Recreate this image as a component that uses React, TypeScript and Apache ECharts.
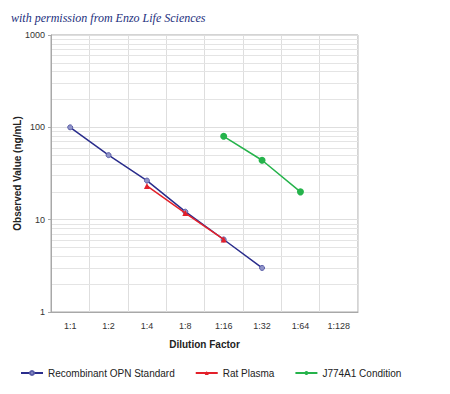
import React, { useEffect, useRef } from "react";
import * as echarts from "echarts";

const categories = ["1:1", "1:2", "1:4", "1:8", "1:16", "1:32", "1:64", "1:128"];
const recombinant = [100, 50, 26.5, 12.2, 6.1, 3.0, null, null];
const ratPlasma = [null, null, 23.2, 11.8, 6.1, null, null, null];
const j774 = [null, null, null, null, 80, 44, 20, null];
const yTicks = [1, 10, 100, 1000];
const minorGrid = [2, 3, 4, 5, 6, 7, 8, 9, 20, 30, 40, 50, 60, 70, 80, 90, 200, 300, 400, 500, 600, 700, 800, 900];

const FONT = "Arial, 'Liberation Sans', sans-serif";

export default function App() {
  const ref = useRef<HTMLDivElement>(null);
  useEffect(() => {
    if (!ref.current) return;
    const chart = echarts.init(ref.current, undefined, { renderer: "svg" });
    chart.setOption({
      animation: false,
      backgroundColor: "#ffffff",
      title: {
        text: "with permission from Enzo Life Sciences",
        left: 6,
        top: 7,
        textStyle: {
          fontFamily: "'Liberation Serif', serif",
          fontStyle: "italic",
          fontWeight: "normal",
          fontSize: 12,
          color: "#1d2f7d",
        },
      },
      grid: {
        left: 51,
        top: 35,
        right: 92,
        bottom: 82,
        show: true,
        containLabel: false,
        outerBoundsMode: "none",
        borderColor: "#a8a8a8",
        borderWidth: 1,
      },
      legend: {
        left: 15,
        top: 363,
        itemWidth: 22,
        itemHeight: 5,
        itemGap: 20,
        textStyle: {
          fontFamily: FONT,
          fontSize: 10,
          color: "#222",
          overflow: "truncate",
          ellipsis: "",
        },
        data: [
          { name: "Recombinant OPN Standard", textStyle: { width: 160 } },
          { name: "Rat Plasma", textStyle: { width: 80 } },
          { name: "J774A1 Conditioned Medium", textStyle: { width: 84 } },
        ],
      },
      xAxis: {
        type: "category",
        data: categories,
        boundaryGap: true,
        name: "Dilution Factor",
        nameLocation: "middle",
        nameGap: 27,
        nameMoveOverlap: false,
        nameTextStyle: { fontFamily: FONT, fontSize: 10, fontWeight: "bold", color: "#222" },
        axisLine: { lineStyle: { color: "#a8a8a8" } },
        axisTick: { show: false },
        axisLabel: { fontFamily: FONT, fontSize: 9, color: "#333", margin: 9 },
        splitLine: { show: true, lineStyle: { color: "#dedede", width: 1 } },
      },
      yAxis: {
        type: "log",
        logBase: 10,
        min: yTicks[0],
        max: yTicks[yTicks.length - 1],
        name: "Observed Value (ng/mL)",
        nameLocation: "middle",
        nameGap: 29,
        nameMoveOverlap: false,
        nameTextStyle: { fontFamily: FONT, fontSize: 10, fontWeight: "bold", color: "#222" },
        axisLine: { show: true, lineStyle: { color: "#a8a8a8" } },
        axisTick: { show: true, length: 3, lineStyle: { color: "#a8a8a8" } },
        axisLabel: {
          fontFamily: FONT,
          fontSize: 9,
          color: "#333",
          margin: 6,
          formatter: (v: number) => String(Math.round(v)),
        },
        splitLine: { show: true, lineStyle: { color: "#dedede", width: 1 } },
      },
      series: [
        {
          name: "Recombinant OPN Standard",
          type: "line",
          data: recombinant,
          connectNulls: false,
          color: "#2a2d8c",
          lineStyle: { color: "#2a2d8c", width: 1.5 },
          symbol: "circle",
          symbolSize: 5,
          itemStyle: { color: "#8f93c8", borderColor: "#5a5ea8", borderWidth: 1 },
          z: 3,
          markLine: {
            silent: true,
            symbol: "none",
            label: { show: false },
            lineStyle: { color: "#e4e4e4", width: 1, type: "solid" },
            emphasis: { disabled: true },
            data: minorGrid.map((v) => ({ yAxis: v })),
            z: 0,
          },
        },
        {
          name: "Rat Plasma",
          type: "line",
          data: ratPlasma,
          color: "#e3202a",
          lineStyle: { color: "#e3202a", width: 1.5 },
          symbol: "triangle",
          symbolSize: 6,
          itemStyle: { color: "#e3202a" },
          z: 4,
        },
        {
          name: "J774A1 Conditioned Medium",
          type: "line",
          data: j774,
          color: "#25b34b",
          lineStyle: { color: "#25b34b", width: 1.5 },
          symbol: "circle",
          symbolSize: 7,
          itemStyle: { color: "#25b34b" },
          z: 3,
        },
      ],
    });
    return () => chart.dispose();
  }, []);
  return <div ref={ref} style={{ width: 450, height: 394, margin: -8 }} />;
}
